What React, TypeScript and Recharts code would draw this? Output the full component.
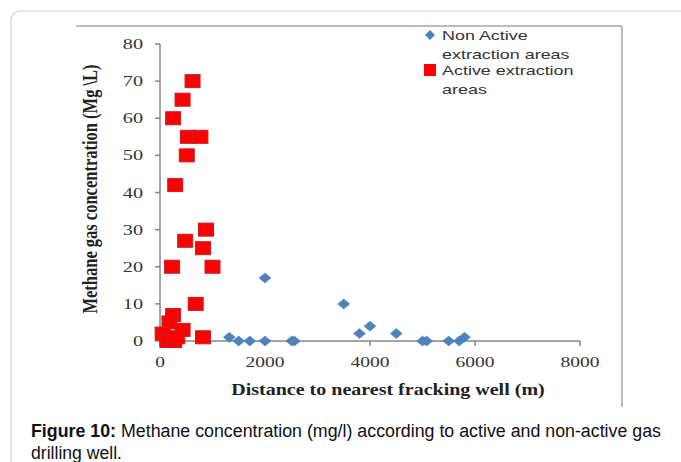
import React from 'react';
import { ScatterChart, Scatter, XAxis, YAxis } from 'recharts';

const nonActiveX = [1320, 1500, 1710, 2000, 2000, 2510, 2560, 3500, 3800, 4000, 4500, 5000, 5080, 5500, 5700, 5800];
const nonActiveY = [1, 0, 0, 0, 17, 0, 0, 10, 2, 4, 2, 0, 0, 0, 0, 1];

const activeX = [620, 430, 250, 530, 770, 510, 290, 876, 480, 820, 230, 1000, 680, 250, 180, 50, 430, 820, 140, 270, 330];
const activeY = [70, 65, 60, 55, 55, 50, 42, 30, 27, 25, 20, 20, 10, 7, 5, 2, 3, 1, 0, 0, 1];

const xTicks = [0, 2000, 4000, 6000, 8000];
const yTicks = [0, 10, 20, 30, 40, 50, 60, 70, 80];

const seriesNames = ['Non Active', 'extraction areas', 'Active extraction', 'areas'];
const xTitle = 'Distance to nearest fracking well (m)';
const yTitle = 'Methane gas concentration (Mg \\L)';
const captionBold = 'Figure 10:';
const captionLine1 = ' Methane concentration (mg/l) according to active and non-active gas';
const captionLine2 = 'drilling well.';

const nonActive = nonActiveX.map((x, i) => ({ x, y: nonActiveY[i] }));
const active = activeX.map((x, i) => ({ x, y: activeY[i] }));

const serif = '"Liberation Serif", "Times New Roman", serif';
const sans = '"Liberation Sans", Arial, sans-serif';
const narrow = '"Liberation Sans Narrow", "Arial Narrow", "Liberation Sans", sans-serif';

const Diamond = (props: any) => {
  const { cx, cy } = props;
  return (
    <polygon
      points={`${cx - 6},${cy} ${cx},${cy - 5} ${cx + 6},${cy} ${cx},${cy + 5}`}
      fill="#4f81bd"
      stroke="#4a7cb8"
      strokeWidth={0.5}
    />
  );
};

const Square = (props: any) => {
  const { cx, cy } = props;
  return <rect x={cx - 7.5} y={cy - 6.5} width={15} height={13} fill="#ff0000" stroke="#c42020" strokeWidth={1} />;
};

const YTick = (props: any) => {
  const { x, y, payload } = props;
  return (
    <g transform={`translate(${x},${y})`}>
      <text x={0} y={0} textAnchor="end" dominantBaseline="central" transform="scale(1.35,1)" fontFamily={serif} fontSize={15} fill="#333">
        {payload.value}
      </text>
    </g>
  );
};

const XTick = (props: any) => {
  const { x, y, payload } = props;
  return (
    <g transform={`translate(${x},${y})`}>
      <text x={0} y={8} textAnchor="middle" dominantBaseline="central" transform="scale(1.3,1)" fontFamily={serif} fontSize={15} fill="#333">
        {payload.value}
      </text>
    </g>
  );
};

const LegendText = ({ y, children }: any) => (
  <text x={0} y={0} transform={`translate(442,${y}) scale(1.38,1)`} fontFamily={sans} fontSize={13} fill="#333">
    {children}
  </text>
);

export default function App() {
  return (
    <div style={{ position: 'absolute', left: 0, top: 0, width: 681, height: 462, background: '#fff', overflow: 'hidden' }}>
      <svg width={681} height={462} style={{ position: 'absolute', left: 0, top: 0 }}>
        <path d="M 11 700 L 11 22 Q 11 11 22 11 L 700 11" fill="none" stroke="#cfcfcf" strokeWidth={1.2} />
        <line x1={76} y1={26} x2={622} y2={26} stroke="#a6a6a6" strokeWidth={1.5} />
        <line x1={622} y1={26} x2={622} y2={407} stroke="#a6a6a6" strokeWidth={1.5} />
      </svg>
      <div style={{ position: 'absolute', left: 0, top: 0 }}>
        <ScatterChart width={681} height={462} margin={{ top: 44, right: 101, bottom: 91, left: 100 }}>
          <XAxis
            type="number"
            dataKey="x"
            domain={[0, 8000]}
            ticks={xTicks}
            height={30}
            axisLine={{ stroke: '#868686', strokeWidth: 1.5 }}
            tickLine={{ stroke: '#868686', strokeWidth: 1.5 }}
            tickSize={5}
            tickMargin={8}
            tick={<XTick />}
            interval={0}
          />
          <YAxis
            type="number"
            dataKey="y"
            domain={[0, 80]}
            ticks={yTicks}
            width={60}
            axisLine={{ stroke: '#868686', strokeWidth: 1.5 }}
            tickLine={{ stroke: '#868686', strokeWidth: 1.5 }}
            tickSize={5}
            tickMargin={12}
            tick={<YTick />}
            interval={0}
          />
          <Scatter data={nonActive} shape={Diamond} isAnimationActive={false} />
          <Scatter data={active} shape={Square} isAnimationActive={false} />
        </ScatterChart>
      </div>
      <svg width={681} height={462} style={{ position: 'absolute', left: 0, top: 0, pointerEvents: 'none' }}>
        <text
          x={0}
          y={0}
          transform="translate(90,189) scale(1.3,1) rotate(-90)"
          textAnchor="middle"
          dominantBaseline="central"
          fontFamily={serif}
          fontWeight="bold"
          fontSize={16.5}
          fill="#222"
        >
          {yTitle}
        </text>
        <text x={0} y={0} transform="translate(388,395) scale(1.25,1)" textAnchor="middle" fontFamily={serif} fontWeight="bold" fontSize={16} fill="#222">
          {xTitle}
        </text>
        <polygon points="425,35 430,30 435,35 430,40" fill="#4f81bd" />
        <LegendText y={40}>{seriesNames[0]}</LegendText>
        <LegendText y={59}>{seriesNames[1]}</LegendText>
        <rect x={424} y={64} width={12} height={12} fill="#ff0000" />
        <LegendText y={75}>{seriesNames[2]}</LegendText>
        <LegendText y={94}>{seriesNames[3]}</LegendText>
        <text x={31} y={437} fontFamily={narrow} fontSize={18} fill="#111" textLength={630} lengthAdjust="spacingAndGlyphs">
          <tspan fontWeight="bold">{captionBold}</tspan>
          <tspan>{captionLine1}</tspan>
        </text>
        <text x={31} y={459} fontFamily={narrow} fontSize={18} fill="#111" textLength={91} lengthAdjust="spacingAndGlyphs">
          {captionLine2}
        </text>
      </svg>
    </div>
  );
}
